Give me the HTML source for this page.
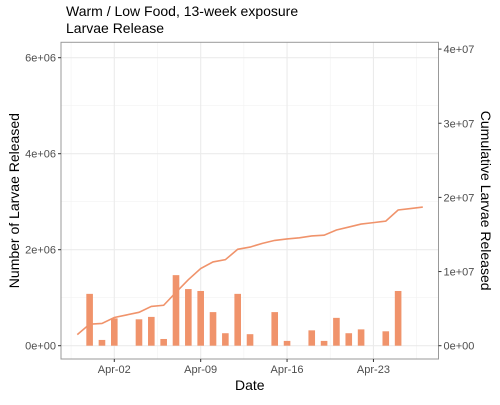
<!DOCTYPE html>
<html><head><meta charset="utf-8"><style>
body{margin:0;background:#fff;font-family:"Liberation Sans",Arial,sans-serif}
svg text{font-family:"Liberation Sans",Arial,sans-serif}
</style></head><body>
<svg id="c" width="500" height="400" xmlns="http://www.w3.org/2000/svg">
<text x="66" y="16" font-size="14" fill="#000">Warm / Low Food, 13-week exposure</text>
<text x="66" y="33" font-size="14" fill="#000">Larvae Release</text>
<g id="g"></g>
</svg>
<script>
const barDays=[-2,-1,0,2,3,4,5,6,7,8,9,10,11,13,14,16,17,18,19,20,22,23];
const barVals=[1.08e6,0.12e6,0.57e6,0.55e6,0.6e6,0.14e6,1.47e6,1.18e6,1.14e6,0.7e6,0.26e6,1.08e6,0.24e6,0.7e6,0.1e6,0.32e6,0.1e6,0.58e6,0.26e6,0.34e6,0.3e6,1.14e6];
const lineDays=[-3,-2,-1,0,1,2,3,4,5,6,7,8,9,10,11,12,13,14,15,16,17,18,19,20,21,22,23,24,25];
const cumVals=[1.5e6,2.9e6,3.0e6,3.8e6,4.15e6,4.5e6,5.3e6,5.45e6,7.2e6,8.9e6,10.4e6,11.3e6,11.6e6,13.0e6,13.3e6,13.8e6,14.2e6,14.4e6,14.55e6,14.8e6,14.9e6,15.6e6,16.0e6,16.4e6,16.6e6,16.8e6,18.3e6,18.5e6,18.7e6];
const xTickDays=[0,7,14,21];
const xTickLabels=["Apr-02","Apr-09","Apr-16","Apr-23"];
const yLeftTicks=[0,2e6,4e6,6e6];
const yLeftLabels=["0e+00","2e+06","4e+06","6e+06"];
const yRightTicks=[0,1e7,2e7,3e7,4e7];
const yRightLabels=["0e+00","1e+07","2e+07","3e+07","4e+07"];

const L=61,R=438.5,T=42.3,B=359;
const X=d=>114.3+d*12.34;
const YL=v=>345.7-v*48/1e6;
const YR=v=>345.7-v*7.415/1e6;
const NS="http://www.w3.org/2000/svg";
const g=document.getElementById('g');
function mk(tag,at,parent){const e=document.createElementNS(NS,tag);for(const k in at)e.setAttribute(k,at[k]);(parent||g).appendChild(e);return e;}
// minor grid
for(let d=-3.5;d<=25;d+=7){const e=mk('line',{x1:X(d),x2:X(d),y1:T,y2:B,stroke:'#f2f2f2','stroke-width':0.6});

}
for(let v=1e6;v<=7e6;v+=2e6){if(YL(v)<T)continue;const e=mk('line',{x1:L,x2:R,y1:YL(v),y2:YL(v),stroke:'#f2f2f2','stroke-width':0.6});

}
xTickDays.forEach(d=>{const e=mk('line',{x1:X(d),x2:X(d),y1:T,y2:B,stroke:'#ebebeb','stroke-width':1.1});

});
yLeftTicks.forEach(v=>{const e=mk('line',{x1:L,x2:R,y1:YL(v),y2:YL(v),stroke:'#ebebeb','stroke-width':1.1});

});
// bars
barDays.forEach((d,i)=>{const w=6.6;const e=mk('rect',{x:X(d)-w/2,y:YL(barVals[i]),width:w,height:YL(0)-YL(barVals[i]),fill:'#f0936b'});

});
// line
const pl=mk('polyline',{points:lineDays.map((d,i)=>X(d)+','+YR(cumVals[i])).join(' '),fill:'none',stroke:'#f0936b','stroke-width':1.6});


// border
const bd=mk('rect',{x:L,y:T,width:R-L,height:B-T,fill:'none',stroke:'#999','stroke-width':1});


// x ticks
xTickDays.forEach((d,i)=>{const t=mk('line',{x1:X(d),x2:X(d),y1:B,y2:B+3,stroke:'#333'});


const l=mk('text',{x:X(d),y:B+14,'font-size':11,fill:'#4d4d4d','text-anchor':'middle'});l.textContent=xTickLabels[i];

});
yLeftTicks.forEach((v,i)=>{const t=mk('line',{x1:L-3,x2:L,y1:YL(v),y2:YL(v),stroke:'#333'});


const l=mk('text',{x:L-5,y:YL(v)+4,'font-size':11,fill:'#4d4d4d','text-anchor':'end'});l.textContent=yLeftLabels[i];

});
yRightTicks.forEach((v,i)=>{const t=mk('line',{x1:R,x2:R+3,y1:YR(v),y2:YR(v),stroke:'#333'});


const l=mk('text',{x:R+5,y:YR(v)+4,'font-size':11,fill:'#4d4d4d'});l.textContent=yRightLabels[i];

});
const xt=mk('text',{x:(L+R)/2,y:390,'font-size':14,'text-anchor':'middle',fill:'#000'});xt.textContent='Date';


const yt=mk('text',{x:0,y:0,'font-size':14,'text-anchor':'middle',fill:'#000',transform:`translate(19,${(T+B)/2}) rotate(-90)`});yt.textContent='Number of Larvae Released';


const yr=mk('text',{x:0,y:0,'font-size':14,'text-anchor':'middle',fill:'#000',transform:`translate(481,${(T+B)/2}) rotate(90)`});yr.textContent='Cumulative Larvae Released';


</script>
</body></html>
